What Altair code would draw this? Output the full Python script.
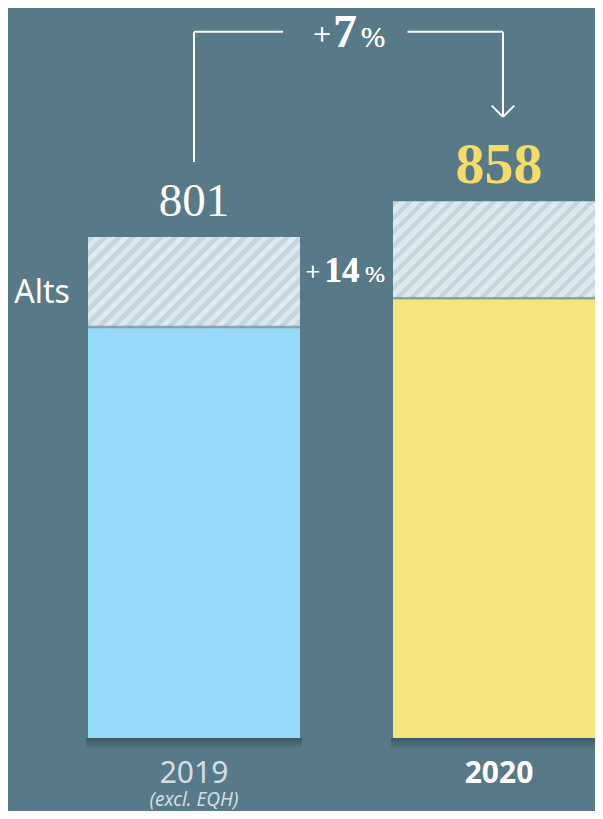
import altair as alt
import pandas as pd

# ---- data ----
years = ["2019", "2020"]
year_sub = ["(excl. EQH)", ""]
positions = [0, 1]
base_values = [657, 703]
alts_values = [144, 155]
totals = [801, 858]
total_growth = "7"
alts_growth = "14"

BG = "#587987"
BAR_COLORS = ["#97d9f9", "#f4e67b"]
LIGHT = "#dde8ec"
DARK = "#c4d7de"
BAR_W = 212
PX_PER_UNIT = 0.6255

df = pd.DataFrame({
    "year": years,
    "pos": positions,
    "base": base_values,
    "alts": alts_values,
    "total": totals,
    "sub": year_sub,
})

xs = alt.Scale(domain=[0, 1], range=[186, 491], padding=0)
ys = alt.Scale(domain=[0, 1000], range=[730, 730 - 1000 * PX_PER_UNIT], padding=0)


def hatch(h, w=BAR_W, period=14.0, frac=0.45):
    k = (w + h) / (w * w + h * h)
    n = (w + h) / period
    stops = []
    i = 0
    while i < n + 1:
        o0 = i / n
        o1 = (i + frac) / n
        o2 = (i + 1) / n
        for o, c in [(o0, DARK), (o1, DARK), (o1, LIGHT), (o2, LIGHT)]:
            if o <= 1:
                stops.append({"offset": round(o, 5), "color": c})
        i += 1
    return {"gradient": "linear", "x1": 0, "y1": 0,
            "x2": round(k * w, 5), "y2": round(k * h, 5), "stops": stops}


X = alt.X("pos:Q", scale=xs, axis=None)

shadow_fill = {"gradient": "linear", "x1": 0, "y1": 0, "x2": 0, "y2": 1,
               "stops": [{"offset": 0, "color": "rgba(35,55,68,0.5)"},
                         {"offset": 1, "color": "rgba(35,55,68,0)"}]}

shadows = alt.Chart(df).transform_calculate(
    s0="0", s1="-18"
).mark_bar(width=BAR_W + 4, fill=shadow_fill).encode(
    x=X, y=alt.Y("s0:Q", scale=ys, axis=None), y2="s1:Q"
)

base_bars = alt.Chart(df).mark_bar(width=BAR_W).encode(
    x=X,
    y=alt.Y("base:Q", scale=ys, axis=None),
    y2=alt.datum(0),
    color=alt.Color("year:N", scale=alt.Scale(domain=years, range=BAR_COLORS), legend=None),
)

alts_layers = []
for i, yr in enumerate(years):
    h = alts_values[i] * PX_PER_UNIT
    alts_layers.append(
        alt.Chart(df).transform_filter(alt.datum.year == yr).mark_bar(
            width=BAR_W, fill=hatch(h)
        ).encode(x=X, y=alt.Y("base:Q", scale=ys), y2="total:Q")
    )

divider = alt.Chart(df).mark_tick(
    size=BAR_W, thickness=2.5, color="#6d8b97", orient="horizontal"
).encode(x=X, y=alt.Y("base:Q", scale=ys))

total_2019 = alt.Chart(df).transform_filter(alt.datum.year == "2019").mark_text(
    font="Liberation Serif", fontSize=47, color="white", dy=-21, baseline="alphabetic"
).encode(x=X, y=alt.Y("total:Q", scale=ys), text="total:Q")

total_2020 = alt.Chart(df).transform_filter(alt.datum.year == "2020").mark_text(
    font="Liberation Serif", fontSize=58, fontWeight="bold", color="#f5dc6a",
    dy=-18, baseline="alphabetic"
).encode(x=X, y=alt.Y("total:Q", scale=ys), text="total:Q")

year_2019 = alt.Chart(df).transform_filter(alt.datum.year == "2019").mark_text(
    font="Noto Sans", fontSize=30, color="#d3dde2", baseline="alphabetic", dy=45
).encode(x=X, y=alt.datum(0), text="year:N")

year_2020 = alt.Chart(df).transform_filter(alt.datum.year == "2020").mark_text(
    font="Noto Sans", fontSize=30, fontWeight="bold", color="white",
    baseline="alphabetic", dy=45
).encode(x=X, y=alt.datum(0), text="year:N")

sub_label = alt.Chart(df).transform_filter(alt.datum.year == "2019").mark_text(
    font="Noto Sans", fontSize=19, fontStyle="italic", color="#d3dde2",
    baseline="alphabetic", dy=68
).encode(x=X, y=alt.datum(0), text="sub:N")

alts_label = alt.Chart(df).transform_filter(alt.datum.year == "2019").mark_text(
    font="Noto Sans", fontSize=32, color="white", baseline="alphabetic", dx=-152, dy=-24
).encode(x=X, y=alt.Y("base:Q", scale=ys), text=alt.value("Alts"))

# bracket (in data units)
L = 0.0
R = 1.013
Y_TOP = 1129
Y_START = 921
Y_TIP = 993
GAP_L = 0.292
GAP_R = 0.70
AX = 0.037
AY = 18

line_style = dict(color="white", strokeWidth=2)
seg = pd.DataFrame({
    "x": [L, L, GAP_R, R, R - AX, R + AX],
    "x2": [L, GAP_L, R, R, R, R],
    "y": [Y_START, Y_TOP, Y_TOP, Y_TOP, Y_TIP + AY, Y_TIP + AY],
    "y2": [Y_TOP, Y_TOP, Y_TOP, Y_TIP, Y_TIP, Y_TIP],
})
bracket = alt.Chart(seg).mark_rule(**line_style).encode(
    x=alt.X("x:Q", scale=xs), x2="x2:Q",
    y=alt.Y("y:Q", scale=ys), y2="y2:Q",
)


def growth(value, xc, yv, big, small_plus, small_pct, dx_plus, dx_pct):
    parts = [
        alt.Chart(df).mark_text(font="Liberation Serif", fontSize=small_plus, color="white",
                                baseline="alphabetic", dx=dx_plus, dy=-2)
        .encode(x=alt.datum(xc, scale=xs), y=alt.datum(yv, scale=ys), text=alt.value("+")),
        alt.Chart(df).mark_text(font="Liberation Serif", fontSize=big, fontWeight="bold",
                                color="white", baseline="alphabetic")
        .encode(x=alt.datum(xc, scale=xs), y=alt.datum(yv, scale=ys), text=alt.value(value)),
        alt.Chart(df).mark_text(font="Liberation Serif", fontSize=small_pct, color="white",
                                baseline="alphabetic", dx=dx_pct)
        .encode(x=alt.datum(xc, scale=xs), y=alt.datum(yv, scale=ys), text=alt.value("%")),
    ]
    return parts


g7 = growth(total_growth, 0.495, 1104, 47, 32, 29, -23, 28)
g14 = growth(alts_growth, 0.485, 729, 35, 26, 24, -29, 33)

chart = alt.layer(
    shadows, base_bars, *alts_layers, divider, total_2019, total_2020,
    year_2019, year_2020, sub_label, alts_label, bracket, *g7, *g14,
).properties(
    width=587, height=803, background=BG, padding=0,
    autosize=alt.AutoSizeParams(type="none"),
).configure_view(stroke=None)

chart.save("out.html", embed_options={"renderer": "svg", "actions": False})
